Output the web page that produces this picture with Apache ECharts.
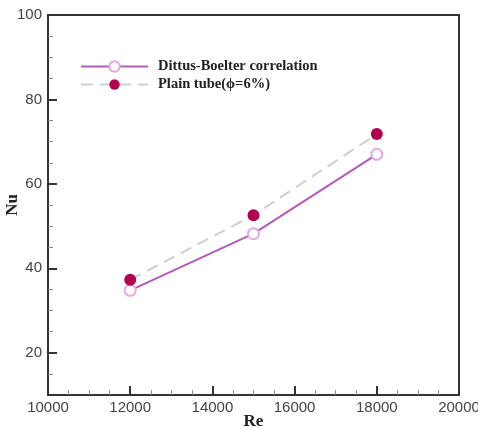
<!DOCTYPE html>
<html>
<head>
<meta charset="utf-8">
<script src="https://cdn.jsdelivr.net/npm/echarts@6/dist/echarts.min.js"></script>
<style>
  html, body { margin: 0; padding: 0; background: #fff; }
  #chart { width: 478px; height: 428px; }
</style>
</head>
<body>
<div id="chart"></div>
<script>
// Reynolds numbers tested
const reValues = [12000, 15000, 18000];
// Nusselt numbers
const dittusBoelter = [34.8, 48.2, 67.0];
const plainTube = [37.3, 52.6, 71.8];

const seriesNames = ['Dittus-Boelter correlation', 'Plain tube(\u03d5=6%)'];

// Axis ticks
const nuMajorTicks = [20, 40, 60, 80, 100];
const nuMinorTicks = [15, 25, 30, 35, 45, 50, 55, 65, 70, 75, 85, 90, 95];

const axisColor = '#333';
const labelFont = { fontFamily: 'Liberation Sans', fontSize: 15, color: '#444' };
const nameFont = { fontFamily: 'Liberation Serif', fontWeight: 'bold', fontSize: 17, color: '#222' };
const plainNumber = v => String(v);

const chart = echarts.init(document.getElementById('chart'), null, { renderer: 'canvas' });

chart.setOption({
  backgroundColor: '#fff',
  animation: false,
  grid: {
    left: 48, top: 15, right: 19, bottom: 33,
    outerBoundsMode: 'none', containLabel: false,
    show: true, borderColor: axisColor, borderWidth: 2, backgroundColor: 'transparent'
  },
  legend: {
    orient: 'vertical',
    left: 75, top: 54,
    itemWidth: 67, itemHeight: 13, itemGap: 3,
    data: seriesNames,
    textStyle: { fontFamily: 'Liberation Serif', fontWeight: 'bold', fontSize: 14.5, color: '#222', padding: [0, 0, 0, 5] }
  },
  xAxis: {
    type: 'value',
    min: 10000, max: 20000, interval: 2000,
    name: 'Re', nameLocation: 'middle', nameGap: 18, nameMoveOverlap: false, nameTextStyle: nameFont,
    axisLine: { show: true, lineStyle: { color: axisColor, width: 2 } },
    axisTick: { show: true, inside: true, length: 9, lineStyle: { color: axisColor, width: 2 } },
    minorTick: { show: true, splitNumber: 4, length: 5, lineStyle: { color: '#888', width: 1 } },
    axisLabel: Object.assign({ margin: 5, formatter: plainNumber }, labelFont),
    splitLine: { show: false }
  },
  yAxis: [{
    type: 'value',
    min: 10, max: 100,
    name: 'Nu', nameLocation: 'middle', nameGap: 27, nameMoveOverlap: false, nameTextStyle: nameFont,
    axisLine: { show: true, lineStyle: { color: axisColor, width: 2 } },
    axisTick: { show: true, inside: true, length: 9, customValues: nuMajorTicks, lineStyle: { color: axisColor, width: 2 } },
    axisLabel: Object.assign({ margin: 6, customValues: nuMajorTicks, formatter: plainNumber }, labelFont),
    splitLine: { show: false }
  }, {
    type: 'value',
    min: 10, max: 100,
    position: 'left',
    axisLine: { show: false },
    axisTick: { show: true, inside: true, length: 5, customValues: nuMinorTicks, lineStyle: { color: '#888', width: 1 } },
    axisLabel: { show: false },
    splitLine: { show: false }
  }],
  series: [{
    name: seriesNames[0],
    type: 'line',
    data: reValues.map((r, i) => [r, dittusBoelter[i]]),
    symbol: 'emptyCircle',
    symbolSize: 11,
    lineStyle: { color: '#b45ab9', width: 2 },
    itemStyle: { color: '#e2a9e3', borderColor: '#e2a9e3', borderWidth: 1.5 },
    z: 3
  }, {
    name: seriesNames[1],
    type: 'line',
    data: reValues.map((r, i) => [r, plainTube[i]]),
    symbol: 'circle',
    symbolSize: 12,
    lineStyle: { color: '#cfcfcf', width: 2, type: [12, 7] },
    itemStyle: { color: '#b3004f' },
    z: 4
  }]
});
</script>
</body>
</html>
